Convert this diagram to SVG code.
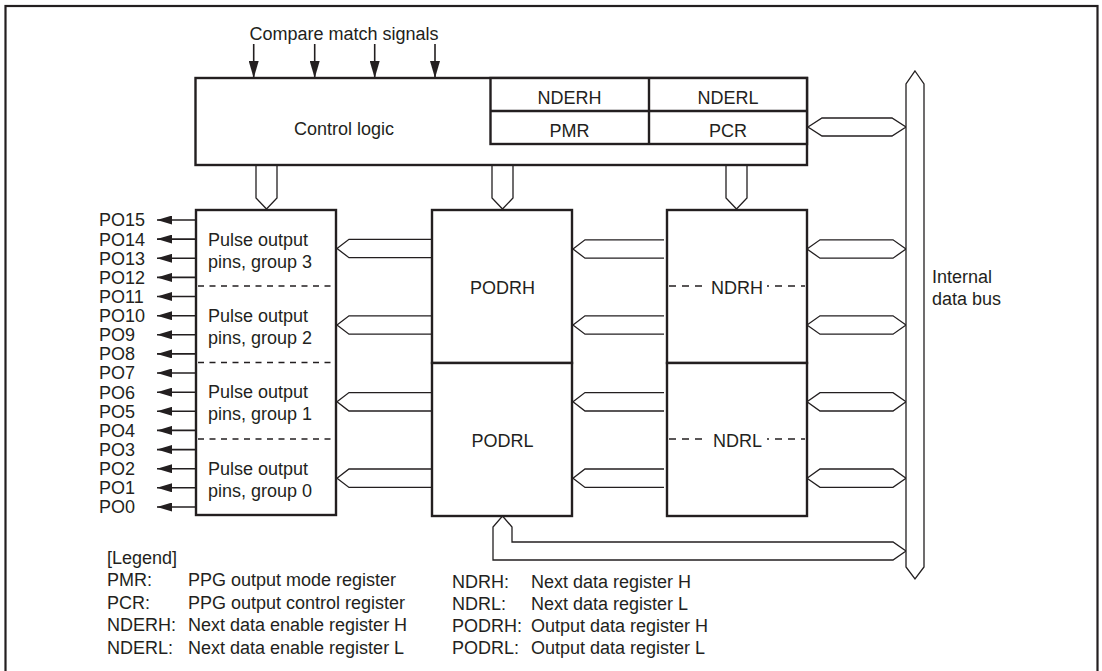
<svg xmlns="http://www.w3.org/2000/svg" width="1102" height="671" viewBox="0 0 1102 671">
<style>
text{font-family:"Liberation Sans",Arial,Helvetica,sans-serif;font-size:18px;fill:#231f20}
.c{text-anchor:middle}
.box{fill:#fff;stroke:#231f20;stroke-width:2.4}
.bus{fill:#fff;stroke:#231f20;stroke-width:1.3;stroke-linejoin:miter}
.dash{stroke:#231f20;stroke-width:1.3;fill:none}
.arr{stroke:#231f20;stroke-width:1.6;fill:none}
</style>
<defs>
<marker id="ah" viewBox="0 0 15 9" refX="15" refY="4.5" markerWidth="15" markerHeight="9" markerUnits="userSpaceOnUse" orient="auto"><path d="M0,0 L15,4.5 L0,9 z" fill="#231f20"/></marker>
<marker id="ahv" viewBox="0 0 17 10" refX="17" refY="5" markerWidth="17" markerHeight="10" markerUnits="userSpaceOnUse" orient="auto"><path d="M0,0 L17,5 L0,10 z" fill="#231f20"/></marker>
</defs>
<rect x="0" y="0" width="1102" height="671" fill="#fff"/>
<rect x="5.5" y="6" width="1092" height="680" fill="none" stroke="#231f20" stroke-width="2.2"/>

<text class="c" x="344" y="39.5">Compare match signals</text>

<g id="connectors">
  <g id="compare-match">
    <line class="arr" x1="253.7" y1="44" x2="253.7" y2="78" marker-end="url(#ahv)"/>
    <line class="arr" x1="314.7" y1="44" x2="314.7" y2="78" marker-end="url(#ahv)"/>
    <line class="arr" x1="374.7" y1="44" x2="374.7" y2="78" marker-end="url(#ahv)"/>
    <line class="arr" x1="435" y1="44" x2="435" y2="78" marker-end="url(#ahv)"/>
  </g>
  <g id="control-down-buses">
    <path class="bus" d="M256,165 V198 L266.5,209 L277,198 V165"/>
    <path class="bus" d="M492,165 V198 L502.5,209 L513,198 V165"/>
    <path class="bus" d="M726,165 V198 L736.5,209 L747,198 V165"/>
  </g>
  <g id="pcr-bus">
    <path class="bus" d="M808,127 L822,118 H892 L906,127 L892,136 H822 z"/>
  </g>
  <g id="podr-to-pins">
    <path class="bus" d="M432,239.3 H349 L337,248.5 L349,257.7 H432"/>
    <path class="bus" d="M432,315.8 H349 L337,325 L349,334.2 H432"/>
    <path class="bus" d="M432,392.6 H349 L337,401.8 L349,411 H432"/>
    <path class="bus" d="M432,469 H349 L337,478.2 L349,487.4 H432"/>
  </g>
  <g id="ndr-to-podr">
    <path class="bus" d="M664,239.8 H585 L573,249 L585,258.2 H664"/>
    <path class="bus" d="M664,315.8 H585 L573,325 L585,334.2 H664"/>
    <path class="bus" d="M664,392.6 H585 L573,401.8 L585,411 H664"/>
    <path class="bus" d="M664,469 H585 L573,478.2 L585,487.4 H664"/>
  </g>
  <g id="bus-to-ndr">
    <path class="bus" d="M807,249 L820,239.8 H893 L906,249 L893,258.2 H820 z"/>
    <path class="bus" d="M807,325 L820,315.8 H893 L906,325 L893,334.2 H820 z"/>
    <path class="bus" d="M807,401.8 L820,392.6 H893 L906,401.8 L893,411 H820 z"/>
    <path class="bus" d="M807,478.2 L820,469 H893 L906,478.2 L893,487.4 H820 z"/>
  </g>
  <g id="bus-to-podrl">
    <path class="bus" d="M502.5,516 L512,527 V542 H893 L906,551 L893,560 H493 V527 z"/>
  </g>
  <g id="po-outputs">
    <line class="arr" x1="196" y1="220" x2="157" y2="220" marker-end="url(#ah)"/>
    <line class="arr" x1="196" y1="239.1" x2="157" y2="239.1" marker-end="url(#ah)"/>
    <line class="arr" x1="196" y1="258.3" x2="157" y2="258.3" marker-end="url(#ah)"/>
    <line class="arr" x1="196" y1="277.4" x2="157" y2="277.4" marker-end="url(#ah)"/>
    <line class="arr" x1="196" y1="296.5" x2="157" y2="296.5" marker-end="url(#ah)"/>
    <line class="arr" x1="196" y1="315.7" x2="157" y2="315.7" marker-end="url(#ah)"/>
    <line class="arr" x1="196" y1="334.8" x2="157" y2="334.8" marker-end="url(#ah)"/>
    <line class="arr" x1="196" y1="353.9" x2="157" y2="353.9" marker-end="url(#ah)"/>
    <line class="arr" x1="196" y1="373" x2="157" y2="373" marker-end="url(#ah)"/>
    <line class="arr" x1="196" y1="392.2" x2="157" y2="392.2" marker-end="url(#ah)"/>
    <line class="arr" x1="196" y1="411.3" x2="157" y2="411.3" marker-end="url(#ah)"/>
    <line class="arr" x1="196" y1="430.4" x2="157" y2="430.4" marker-end="url(#ah)"/>
    <line class="arr" x1="196" y1="449.6" x2="157" y2="449.6" marker-end="url(#ah)"/>
    <line class="arr" x1="196" y1="468.7" x2="157" y2="468.7" marker-end="url(#ah)"/>
    <line class="arr" x1="196" y1="487.8" x2="157" y2="487.8" marker-end="url(#ah)"/>
    <line class="arr" x1="196" y1="507" x2="157" y2="507" marker-end="url(#ah)"/>
  </g>
</g>

<g id="internal-data-bus">
  <path class="bus" d="M915,71 L924,84 V567 L915,579 L906,567 V84 z"/>
  <text x="932" y="283">Internal</text>
  <text x="932" y="305">data bus</text>
</g>

<g id="control-logic">
  <rect class="box" x="195.5" y="78" width="611.5" height="87"/>
  <text class="c" x="344" y="134.5">Control logic</text>
</g>
<g id="registers">
  <rect class="box" x="490.5" y="78" width="316.5" height="66"/>
  <line class="box" x1="490.5" y1="111" x2="807" y2="111"/>
  <line class="box" x1="649" y1="78" x2="649" y2="144"/>
  <text class="c" x="569.5" y="103.5">NDERH</text>
  <text class="c" x="728" y="103.5">NDERL</text>
  <text class="c" x="569.5" y="136.5">PMR</text>
  <text class="c" x="728" y="136.5">PCR</text>
</g>

<g id="pulse-output-pins">
  <rect class="box" x="196" y="210" width="140" height="305"/>
  <line class="dash" x1="198" y1="286" x2="336" y2="286" stroke-dasharray="6 5.5"/>
  <line class="dash" x1="198" y1="362.5" x2="336" y2="362.5" stroke-dasharray="6 5.5"/>
  <line class="dash" x1="198" y1="439" x2="336" y2="439" stroke-dasharray="6 5.5"/>
  <text x="208" y="245.5">Pulse output</text>
  <text x="208" y="267.5">pins, group 3</text>
  <text x="208" y="322">Pulse output</text>
  <text x="208" y="343.5">pins, group 2</text>
  <text x="208" y="398">Pulse output</text>
  <text x="208" y="419.5">pins, group 1</text>
  <text x="208" y="474.5">Pulse output</text>
  <text x="208" y="496.5">pins, group 0</text>
</g>

<g id="po-labels">
  <text x="99" y="226.4">PO15</text>
  <text x="99" y="245.5">PO14</text>
  <text x="99" y="264.7">PO13</text>
  <text x="99" y="283.8">PO12</text>
  <text x="99" y="302.9">PO11</text>
  <text x="99" y="322.1">PO10</text>
  <text x="99" y="341.2">PO9</text>
  <text x="99" y="360.3">PO8</text>
  <text x="99" y="379.4">PO7</text>
  <text x="99" y="398.6">PO6</text>
  <text x="99" y="417.7">PO5</text>
  <text x="99" y="436.8">PO4</text>
  <text x="99" y="456">PO3</text>
  <text x="99" y="475.1">PO2</text>
  <text x="99" y="494.2">PO1</text>
  <text x="99" y="513.4">PO0</text>
</g>

<g id="podrh">
  <rect class="box" x="432" y="210" width="140" height="153"/>
  <text class="c" x="502.5" y="293.5">PODRH</text>
</g>
<g id="podrl">
  <rect class="box" x="432" y="363" width="140" height="153"/>
  <text class="c" x="502.5" y="446.5">PODRL</text>
</g>
<g id="ndrh">
  <rect class="box" x="667" y="210" width="140" height="153"/>
  <line class="dash" x1="669" y1="286" x2="708" y2="286" stroke-dasharray="7 6"/>
  <line class="dash" x1="767" y1="286" x2="805" y2="286" stroke-dasharray="7 6" stroke-dashoffset="5"/>
  <text class="c" x="737" y="293.5">NDRH</text>
</g>
<g id="ndrl">
  <rect class="box" x="667" y="363" width="140" height="153"/>
  <line class="dash" x1="669" y1="439" x2="708" y2="439" stroke-dasharray="7 6"/>
  <line class="dash" x1="767" y1="439" x2="805" y2="439" stroke-dasharray="7 6" stroke-dashoffset="5"/>
  <text class="c" x="737.5" y="446.5">NDRL</text>
</g>

<g id="legend">
  <text x="107" y="563.5">[Legend]</text>
  <text x="107" y="586">PMR:</text><text x="188" y="586">PPG output mode register</text>
  <text x="107" y="608.5">PCR:</text><text x="188" y="608.5">PPG output control register</text>
  <text x="107" y="631">NDERH:</text><text x="188" y="631">Next data enable register H</text>
  <text x="107" y="653.5">NDERL:</text><text x="188" y="653.5">Next data enable register L</text>
  <text x="452" y="587.5">NDRH:</text><text x="531" y="587.5">Next data register H</text>
  <text x="452" y="609.5">NDRL:</text><text x="531" y="609.5">Next data register L</text>
  <text x="452" y="631.5">PODRH:</text><text x="531" y="631.5">Output data register H</text>
  <text x="452" y="653.5">PODRL:</text><text x="531" y="653.5">Output data register L</text>
</g>
</svg>
